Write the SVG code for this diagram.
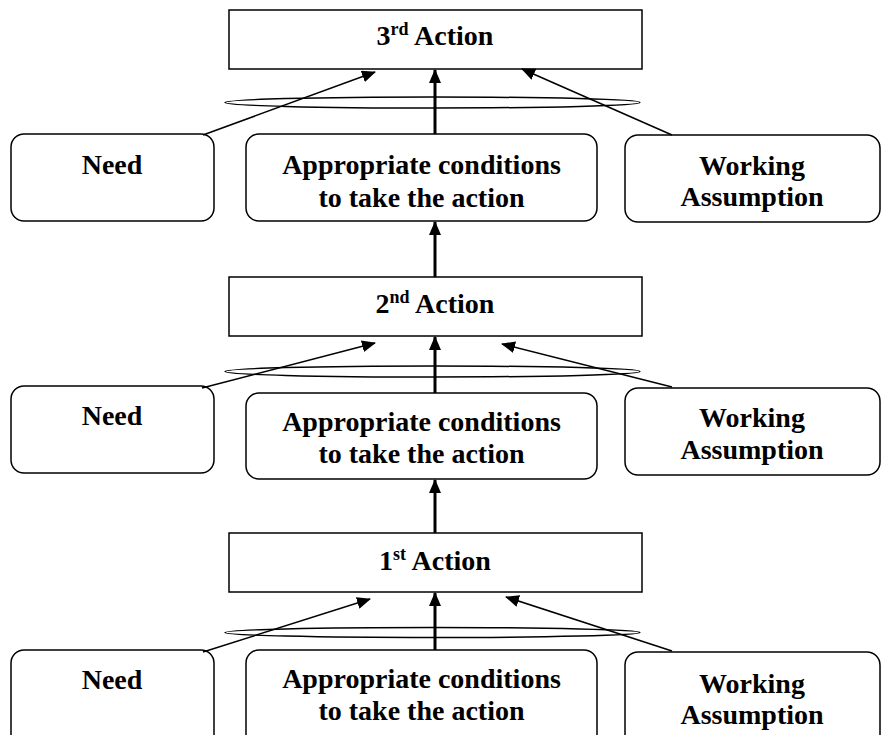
<svg xmlns="http://www.w3.org/2000/svg" width="884" height="735" viewBox="0 0 884 735">
<style>
.box{fill:#fff;stroke:#000;stroke-width:1.5}
.ell{fill:none;stroke:#000;stroke-width:1.5}
.t{font-family:"Liberation Serif","Times New Roman",serif;font-weight:bold;font-size:28px;text-anchor:middle;fill:#000}
.sup{font-size:18px}
.thick{stroke:#000;stroke-width:3;fill:none;marker-end:url(#ah)}
.thin{stroke:#000;stroke-width:1.5;fill:none;marker-end:url(#ah)}
</style>
<defs>
<marker id="ah" markerUnits="userSpaceOnUse" markerWidth="14" markerHeight="12" viewBox="0 0 14 12" refX="13" refY="6" orient="auto">
<path d="M0,0 L14,6 L0,12 z" fill="#000"/>
</marker>
</defs>
<g id="action3"><rect class="box" x="229" y="10" width="413" height="59"/><text class="t" x="435" y="45">3<tspan class="sup" dy="-10">rd</tspan><tspan dy="10"> Action</tspan></text></g>
<g id="need3"><rect class="box" x="11" y="134" width="203" height="87" rx="13"/><text class="t" x="112" y="174">Need</text></g>
<g id="cond3"><rect class="box" x="246" y="134" width="351" height="87" rx="13"/><text class="t" x="421.5" y="174">Appropriate conditions</text><text class="t" x="421.5" y="207">to take the action</text></g>
<g id="work3"><rect class="box" x="625" y="135" width="255" height="87" rx="13"/><text class="t" x="752" y="175">Working</text><text class="t" x="752" y="206">Assumption</text></g>

<g id="action2"><rect class="box" x="229" y="277" width="413" height="59"/><text class="t" x="435" y="313">2<tspan class="sup" dy="-10">nd</tspan><tspan dy="10"> Action</tspan></text></g>
<g id="need2"><rect class="box" x="11" y="386" width="203" height="87" rx="13"/><text class="t" x="112" y="425">Need</text></g>
<g id="cond2"><rect class="box" x="246" y="393" width="351" height="86" rx="13"/><text class="t" x="421.5" y="431">Appropriate conditions</text><text class="t" x="421.5" y="463">to take the action</text></g>
<g id="work2"><rect class="box" x="625" y="388" width="255" height="87" rx="13"/><text class="t" x="752" y="427">Working</text><text class="t" x="752" y="459">Assumption</text></g>

<g id="action1"><rect class="box" x="229" y="533" width="413" height="59"/><text class="t" x="435" y="570">1<tspan class="sup" dy="-10">st</tspan><tspan dy="10"> Action</tspan></text></g>
<g id="need1"><rect class="box" x="11" y="650" width="203" height="100" rx="13"/><text class="t" x="112" y="689">Need</text></g>
<g id="cond1"><rect class="box" x="246" y="650" width="351" height="100" rx="13"/><text class="t" x="421.5" y="688">Appropriate conditions</text><text class="t" x="421.5" y="720">to take the action</text></g>
<g id="work1"><rect class="box" x="625" y="652" width="255" height="100" rx="13"/><text class="t" x="752" y="693">Working</text><text class="t" x="752" y="724">Assumption</text></g>

<g id="connectors">
<ellipse class="ell" cx="432.5" cy="102.5" rx="207.5" ry="5.5"/>
<ellipse class="ell" cx="432.5" cy="371.5" rx="207.5" ry="5.5"/>
<ellipse class="ell" cx="432.5" cy="632.5" rx="207.5" ry="5"/>
<line class="thick" x1="435" y1="134" x2="435" y2="70"/>
<line class="thin" x1="203" y1="135" x2="375" y2="72"/>
<line class="thin" x1="672" y1="135" x2="522" y2="69"/>
<line class="thick" x1="435" y1="277" x2="435" y2="222"/>
<line class="thick" x1="435" y1="393" x2="435" y2="337"/>
<line class="thin" x1="202" y1="388" x2="375" y2="343"/>
<line class="thin" x1="672" y1="387" x2="502" y2="344"/>
<line class="thick" x1="435" y1="533" x2="435" y2="480"/>
<line class="thick" x1="435" y1="650" x2="435" y2="593"/>
<line class="thin" x1="203" y1="652" x2="370" y2="599"/>
<line class="thin" x1="672" y1="651" x2="506" y2="597"/>
</g>
</svg>
